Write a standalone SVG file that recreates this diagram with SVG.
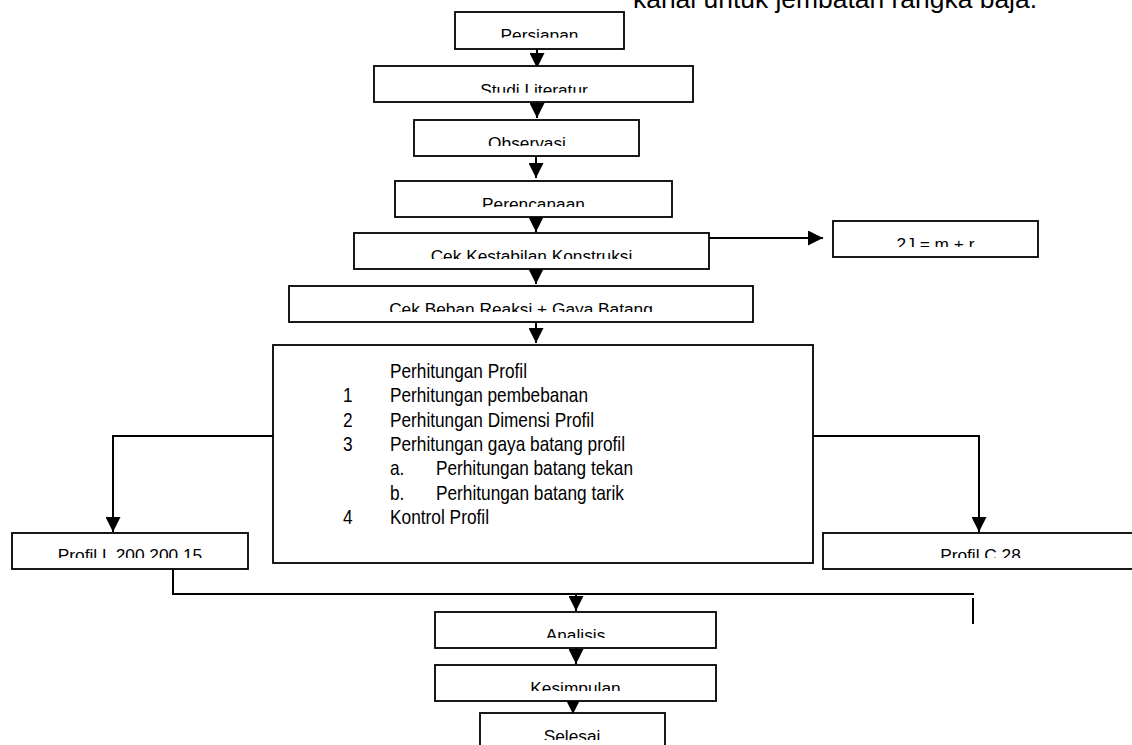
<svg xmlns="http://www.w3.org/2000/svg" width="1132" height="745" viewBox="0 0 1132 745">
<style>
.box{fill:#fff;stroke:#000;stroke-width:1.8}
.lbl{font-family:"Liberation Sans",Arial,sans-serif;font-size:17.3px;fill:#000;text-anchor:middle}
.big{font-family:"Liberation Sans",Arial,sans-serif;font-size:21px;fill:#000}
.ln{fill:none;stroke:#000;stroke-width:2}
.arr{fill:none;stroke:#000;stroke-width:2;marker-end:url(#ah)}
</style>
<defs>
<marker id="ah" viewBox="0 0 10 10" refX="10" refY="5" markerUnits="userSpaceOnUse" markerWidth="15" markerHeight="15" orient="auto">
<path d="M0,0 L10,5 L0,10 z" fill="#000"/>
</marker>
<clipPath id="c1"><rect x="455" y="12" width="169" height="25.7"/></clipPath>
<clipPath id="c2"><rect x="374" y="66" width="319" height="26.7"/></clipPath>
<clipPath id="c3"><rect x="414" y="120" width="225" height="26"/></clipPath>
<clipPath id="c4"><rect x="395" y="181" width="277" height="26"/></clipPath>
<clipPath id="c5"><rect x="354" y="233" width="355" height="26"/></clipPath>
<clipPath id="c6"><rect x="833" y="221" width="205" height="26"/></clipPath>
<clipPath id="c7"><rect x="289" y="286" width="464" height="26"/></clipPath>
<clipPath id="c8"><rect x="12" y="533" width="236" height="25"/></clipPath>
<clipPath id="c9"><rect x="823" y="533" width="320" height="25"/></clipPath>
<clipPath id="c10"><rect x="435" y="612" width="281" height="26"/></clipPath>
<clipPath id="c11"><rect x="435" y="665" width="281" height="26"/></clipPath>
<clipPath id="c12"><rect x="480" y="713" width="185" height="27"/></clipPath>
</defs>
<rect width="1132" height="745" fill="#fff"/>

<text x="633" y="8" font-family="'Liberation Sans',Arial,sans-serif" font-size="25" textLength="404" lengthAdjust="spacingAndGlyphs" fill="#000">kanal untuk jembatan rangka baja.</text>

<g id="connectors">
<path class="arr" d="M537,49 V68"/>
<path class="arr" d="M537,102 V118"/>
<path class="arr" d="M536,156 V178"/>
<path class="arr" d="M536,217 V232"/>
<path class="arr" d="M709,238 H823"/>
<path class="arr" d="M536,269 V284"/>
<path class="arr" d="M536,322 V343"/>
<path class="arr" d="M273,436 H113 V532"/>
<path class="arr" d="M813,436 H979 V532"/>
<path class="ln" d="M173,569 V594 H974"/>
<path class="ln" d="M973,598 V624"/>
<path class="arr" d="M576,594 V611"/>
<path class="arr" d="M576,648 V664"/>
<path class="arr" d="M573,701 V714"/>
</g>

<g id="n-persiapan"><rect class="box" x="455" y="12" width="169" height="37"/><text class="lbl" x="539.5" y="40.7" clip-path="url(#c1)">Persiapan</text></g>
<g id="n-studi"><rect class="box" x="374" y="66" width="319" height="36"/><text class="lbl" x="534" y="95.7" clip-path="url(#c2)">Studi Literatur</text></g>
<g id="n-observasi"><rect class="box" x="414" y="120" width="225" height="36"/><text class="lbl" x="527" y="149" clip-path="url(#c3)">Observasi</text></g>
<g id="n-perencanaan"><rect class="box" x="395" y="181" width="277" height="36"/><text class="lbl" x="533.5" y="210" clip-path="url(#c4)">Perencanaan</text></g>
<g id="n-kestabilan"><rect class="box" x="354" y="233" width="355" height="36"/><text class="lbl" x="531.5" y="262" clip-path="url(#c5)">Cek Kestabilan Konstruksi</text></g>
<g id="n-rumus"><rect class="box" x="833" y="221" width="205" height="36"/><text class="lbl" x="935.5" y="250" clip-path="url(#c6)">2J = m + r</text></g>
<g id="n-beban"><rect class="box" x="289" y="286" width="464" height="36"/><text class="lbl" x="521" y="315" clip-path="url(#c7)">Cek Beban Reaksi + Gaya Batang</text></g>

<g id="n-perhitungan">
<rect class="box" x="273" y="345" width="540" height="218"/>
<text class="big" x="390" y="378" textLength="137" lengthAdjust="spacingAndGlyphs">Perhitungan Profil</text>
<text class="big" x="343" y="402.3" textLength="9.6" lengthAdjust="spacingAndGlyphs">1</text>
<text class="big" x="390" y="402.3" textLength="198" lengthAdjust="spacingAndGlyphs">Perhitungan pembebanan</text>
<text class="big" x="343" y="426.6" textLength="9.6" lengthAdjust="spacingAndGlyphs">2</text>
<text class="big" x="390" y="426.6" textLength="204" lengthAdjust="spacingAndGlyphs">Perhitungan Dimensi Profil</text>
<text class="big" x="343" y="450.9" textLength="9.6" lengthAdjust="spacingAndGlyphs">3</text>
<text class="big" x="390" y="450.9" textLength="235" lengthAdjust="spacingAndGlyphs">Perhitungan gaya batang profil</text>
<text class="big" x="390" y="475.2" textLength="14.4" lengthAdjust="spacingAndGlyphs">a.</text>
<text class="big" x="436" y="475.2" textLength="197" lengthAdjust="spacingAndGlyphs">Perhitungan batang tekan</text>
<text class="big" x="390" y="499.5" textLength="14.4" lengthAdjust="spacingAndGlyphs">b.</text>
<text class="big" x="436" y="499.5" textLength="188" lengthAdjust="spacingAndGlyphs">Perhitungan batang tarik</text>
<text class="big" x="343" y="523.8" textLength="9.6" lengthAdjust="spacingAndGlyphs">4</text>
<text class="big" x="390" y="523.8" textLength="99" lengthAdjust="spacingAndGlyphs">Kontrol Profil</text>
</g>

<g id="n-profil-l"><rect class="box" x="12" y="533" width="236" height="36"/><text class="lbl" x="130" y="561" clip-path="url(#c8)">Profil L 200.200.15</text></g>
<g id="n-profil-c"><rect class="box" x="823" y="533" width="320" height="36"/><text class="lbl" x="980.5" y="561" clip-path="url(#c9)">Profil C 28</text></g>
<g id="n-analisis"><rect class="box" x="435" y="612" width="281" height="36"/><text class="lbl" x="575.5" y="640.7" clip-path="url(#c10)">Analisis</text></g>
<g id="n-kesimpulan"><rect class="box" x="435" y="665" width="281" height="36"/><text class="lbl" x="575.5" y="693.7" clip-path="url(#c11)">Kesimpulan</text></g>
<g id="n-selesai"><rect class="box" x="480" y="713" width="185" height="40"/><text class="lbl" x="572" y="742" clip-path="url(#c12)">Selesai</text></g>
</svg>
